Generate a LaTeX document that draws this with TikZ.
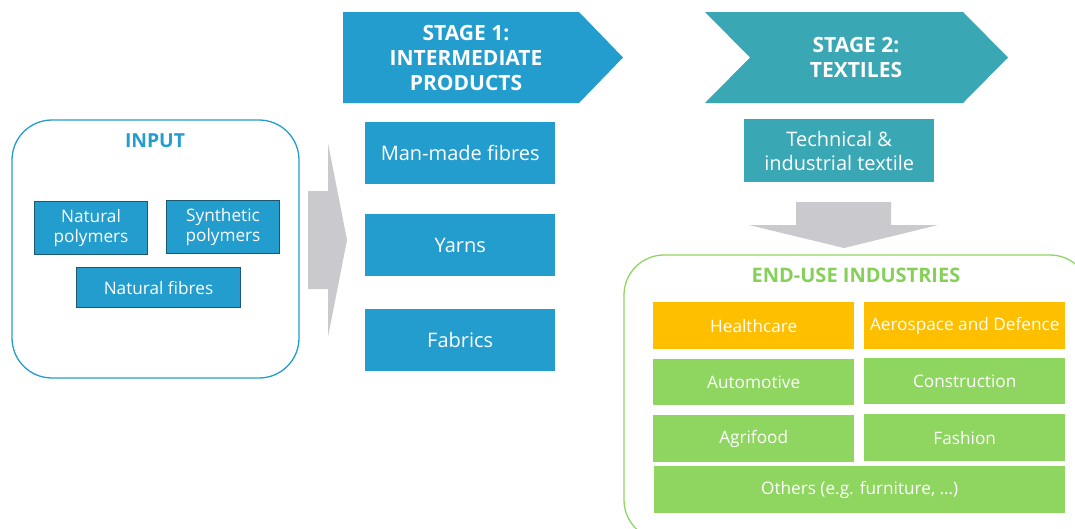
\documentclass[tikz,border=0pt]{standalone}
\usepackage{fontspec}
\setmainfont{Open Sans}
\definecolor{blue1}{HTML}{239DCE}
\definecolor{teal1}{HTML}{3AA7B5}
\definecolor{grey1}{HTML}{C9C9CE}
\definecolor{green1}{HTML}{8FD660}
\definecolor{orange1}{HTML}{FDBF00}
\definecolor{darkedge}{HTML}{1C5870}
\definecolor{gtitle}{HTML}{86D05A}
\begin{document}
\begin{tikzpicture}[x=1pt,y=-1pt,
  box/.style={text=white,align=center,inner sep=0pt,anchor=north west},
  inbox/.style={box,fill=blue1,draw=darkedge,line width=1pt,font=\fontsize{17.2}{20.5}\selectfont},
  stbox/.style={box,fill=blue1,font=\fontsize{20}{24}\selectfont},
  endbox/.style={box,font=\fontsize{17.2}{20}\selectfont},
  ttl/.style={font=\bfseries\fontsize{21}{25}\selectfont,align=center},
  arrowshape/.style={fill=grey1,draw=none}]
\useasboundingbox (0,0) rectangle (1075,528);
\clip (0,0) rectangle (1075,528);
% input container
\draw[blue1,line width=1.3pt,rounded corners=40pt] (12,120) rectangle (299,378);
\node[ttl,text=blue1,font=\bfseries\fontsize{19.3}{22}\selectfont] (input) at (155,141) {INPUT};
\node[inbox,minimum width=113pt,minimum height=53pt] (np) at (34,201) {Natural\\[-1pt]polymers};
\node[inbox,minimum width=113pt,minimum height=53pt] (sp) at (166,200) {Synthetic\\[-1pt]polymers};
\node[inbox,minimum width=164pt,minimum height=40pt] (nf) at (76,267) {Natural fibres};
% grey arrow right
\fill[arrowshape] (308,191) -- (328,191) -- (328,143) -- (347,240) -- (328,337) -- (328,289) -- (308,289) -- cycle;
% stage 1 chevron
\fill[blue1] (343,12) -- (579,12) -- (623,57.5) -- (579,103) -- (343,103) -- cycle;
\node[ttl,text=white] (s1) at (466,58) {STAGE 1:\\INTERMEDIATE\\PRODUCTS};
\node[stbox,minimum width=190pt,minimum height=62pt] (mm) at (365,122) {Man-made fibres};
\node[stbox,minimum width=190pt,minimum height=62pt] (yn) at (365,214) {Yarns};
\node[stbox,minimum width=190pt,minimum height=62pt] (fb) at (365,309) {Fabrics};
% stage 2 chevron
\fill[teal1] (705,12) -- (963,12) -- (1008,57.5) -- (963,103) -- (705,103) -- (750,57.5) -- cycle;
\node[ttl,text=white] (s2) at (856,57.5) {STAGE 2:\\TEXTILES};
\node[stbox,fill=teal1,minimum width=190pt,minimum height=63pt,font=\fontsize{20}{24}\selectfont] (tt) at (744,119) {Technical \&\\industrial textile};
% grey arrow down
\fill[arrowshape] (796,202) -- (891,202) -- (891,225) -- (938,225) -- (844,248) -- (749,225) -- (796,225) -- cycle;
% end-use container
\draw[green1,line width=1.3pt,rounded corners=40pt] (624,255) rectangle (1090,540);
\node[ttl,text=gtitle,font=\bfseries\fontsize{20}{22}\selectfont] (eu) at (856,275) {END-USE INDUSTRIES};
\node[endbox,fill=orange1,minimum width=201pt,minimum height=47pt] (hc) at (653,302) {Healthcare};
\node[endbox,fill=orange1,minimum width=201pt,minimum height=47pt] (ad) at (864,302) {Aerospace and Defence};
\node[endbox,fill=green1,minimum width=201pt,minimum height=46pt] (au) at (653,359) {Automotive};
\node[endbox,fill=green1,minimum width=201pt,minimum height=46pt] (co) at (864,358) {Construction};
\node[endbox,fill=green1,minimum width=201pt,minimum height=47pt] (ag) at (653,415) {Agrifood};
\node[endbox,fill=green1,minimum width=201pt,minimum height=47pt] (fa) at (864,414) {Fashion};
\node[endbox,fill=green1,minimum width=411pt,minimum height=47pt] (ot) at (654,466) {Others (e.g. furniture, …)};
\end{tikzpicture}
\end{document}
